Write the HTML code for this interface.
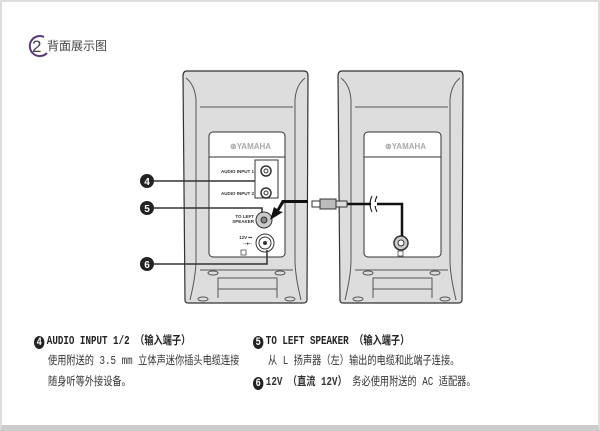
<!DOCTYPE html><html><head><meta charset="utf-8"><style>
body{margin:0;width:600px;height:431px;overflow:hidden;background:#fff;font-family:"Liberation Sans","Noto Sans CJK SC",sans-serif}
.f{position:absolute;left:0;top:0;width:596px;height:423px;border:2px solid #ddd;border-bottom:6px solid #ccc}
.t{position:absolute;font-size:11.5px;color:#333;white-space:nowrap;font-family:"Liberation Mono","Noto Sans CJK SC",sans-serif;transform:scaleX(0.8);transform-origin:left}
.b{font-weight:bold;color:#222}
.n{display:inline-block;width:13px;height:13px;border-radius:50%;background:#222;color:#fff;font:bold 11px "Liberation Sans";text-align:center;line-height:13px;margin-right:3px;vertical-align:-1px}
</style></head><body><div class="f"></div>
<svg width="600" height="431" style="position:absolute;left:0;top:0">
<path d="M44 37 A10 10 0 1 0 47 53" fill="none" stroke="#5a3a7a" stroke-width="2"/>
<text x="32" y="52" font-size="17" fill="#444" font-family="Liberation Sans">2</text>
<text x="47" y="50" font-size="12" fill="#444" font-family="Noto Sans CJK SC">背面展示图</text>
<g fill="#ddd" stroke="#333" stroke-width="1.2">
<path d="M187 71 H304 Q308 71 308 76 L307 300 Q307 303 303 303 H188 Q185 303 185 300 L183 76 Q183 71 187 71Z"/>
<path d="M342 71 H459 Q463 71 463 76 L462 300 Q462 303 458 303 H343 Q340 303 340 300 L338 76 Q338 71 342 71Z"/>
</g>
<g fill="none" stroke="#555" stroke-width="1">
<path d="M186 78 Q195 85 196 100 L196 260 Q196 275 190 300"/><path d="M305 78 Q296 85 295 100 L295 260 Q295 275 301 300"/>
<path d="M341 78 Q350 85 351 100 L351 260 Q351 275 345 300"/><path d="M460 78 Q451 85 450 100 L450 260 Q450 275 456 300"/>
<line x1="200" y1="107" x2="293" y2="107"/><line x1="355" y1="107" x2="448" y2="107"/>
<line x1="200" y1="270" x2="293" y2="270"/><line x1="355" y1="270" x2="448" y2="270"/>
<path d="M218 298 V278 H277 V298 M218 289 H277"/><path d="M373 298 V278 H432 V298 M373 289 H432"/>
<ellipse cx="213" cy="273" rx="5" ry="2"/><ellipse cx="280" cy="273" rx="5" ry="2"/><ellipse cx="368" cy="273" rx="5" ry="2"/><ellipse cx="435" cy="273" rx="5" ry="2"/>
<ellipse cx="203" cy="299" rx="5" ry="2"/><ellipse cx="290" cy="299" rx="5" ry="2"/><ellipse cx="358" cy="299" rx="5" ry="2"/><ellipse cx="445" cy="299" rx="5" ry="2"/>
</g>
<rect x="209" y="132" width="76" height="125" rx="4" fill="#fff" stroke="#333"/>
<rect x="364" y="132" width="77" height="125" rx="4" fill="#fff" stroke="#333"/>
<line x1="209" y1="157" x2="285" y2="157" stroke="#333"/><line x1="364" y1="157" x2="441" y2="157" stroke="#333"/>
<text x="230" y="149" font-size="8" fill="#aaa" font-weight="bold">⊛YAMAHA</text>
<text x="385" y="149" font-size="8" fill="#aaa" font-weight="bold">⊛YAMAHA</text>
<rect x="255" y="160" width="23" height="38" fill="none" stroke="#333"/>
<g fill="#fff" stroke="#333" stroke-width="1.5"><circle cx="266" cy="171" r="5"/><circle cx="266" cy="193" r="5"/></g>
<circle cx="266" cy="171" r="2" fill="none" stroke="#333"/><circle cx="266" cy="193" r="2" fill="none" stroke="#333"/>
<g font-size="4.5" fill="#333" font-weight="bold" text-anchor="end"><text x="254" y="173">AUDIO INPUT 1</text><text x="254" y="195">AUDIO INPUT 2</text><text x="254" y="218">TO LEFT</text><text x="254" y="223">SPEAKER</text><text x="252" y="239">12V ⎓</text><text x="252" y="245">◦-●-◦</text></g>
<circle cx="264" cy="220" r="8" fill="#ccc" stroke="#333"/><circle cx="264" cy="220" r="3" fill="#888" stroke="#333"/>
<circle cx="265" cy="243" r="9" fill="#fff" stroke="#333"/><circle cx="265" cy="243" r="6" fill="#fff" stroke="#333"/><circle cx="265" cy="243" r="2" fill="#333"/>
<rect x="241" y="250" width="5" height="5" fill="none" stroke="#333" stroke-width=".7"/>
<circle cx="401" cy="243" r="7" fill="#ccc" stroke="#333" stroke-width="1.5"/><circle cx="401" cy="243" r="3" fill="#fff" stroke="#333"/>
<rect x="398" y="251" width="5" height="5" fill="none" stroke="#333" stroke-width=".7"/>
<path d="M347 204 H402 V236" fill="none" stroke="#111" stroke-width="2.5"/>
<path d="M372 196 q-4 8 0 16 M377 196 q-4 8 0 16" fill="none" stroke="#111"/>
<line x1="371" y1="204" x2="377" y2="204" stroke="#fff" stroke-width="4"/>
<rect x="312" y="201" width="8" height="6" fill="#fff" stroke="#333"/><rect x="320" y="199" width="16" height="10" fill="#bbb" stroke="#333"/><rect x="336" y="201" width="11" height="6" fill="#ddd" stroke="#333"/>
<path d="M308 203 H284 L279 211 L283 212 L270 220 L274 207 L277 209 L282 200 H308Z" fill="#111"/>
<g stroke="#333" stroke-width="1.5" fill="none"><path d="M154 181 H255"/><path d="M154 208 H262 V213"/><path d="M154 264 H267 V250"/></g>
<g fill="#222"><circle cx="147" cy="181" r="7"/><circle cx="147" cy="208" r="7"/><circle cx="147" cy="264" r="7"/></g>
<g fill="#fff" font-size="10" font-weight="bold" text-anchor="middle"><text x="147" y="185">4</text><text x="147" y="212">5</text><text x="147" y="268">6</text></g>
</svg>
<div class="t b" style="left:34px;top:332px"><span class="n">4</span>AUDIO INPUT 1/2 （输入端子）</div>
<div class="t" style="left:48px;top:352px">使用附送的 3.5 mm 立体声迷你插头电缆连接</div>
<div class="t" style="left:48px;top:373px">随身听等外接设备。</div>
<div class="t b" style="left:253px;top:332px"><span class="n">5</span>TO LEFT SPEAKER （输入端子）</div>
<div class="t" style="left:268px;top:352px">从 L 扬声器（左）输出的电缆和此端子连接。</div>
<div class="t" style="left:253px;top:373px"><span class="n">6</span><b>12V （直流 12V）</b> 务必使用附送的 AC 适配器。</div>
</body></html>
